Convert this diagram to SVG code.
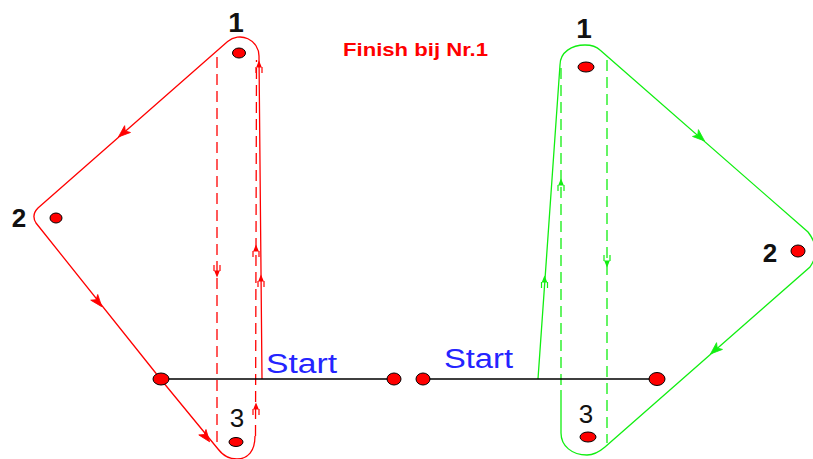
<svg xmlns="http://www.w3.org/2000/svg" width="813" height="459" viewBox="0 0 813 459">
<style>
.red{fill:none;stroke:#ff0000;stroke-width:1.3}
.grn{fill:none;stroke:#11ee11;stroke-width:1.3}
.dash{stroke-dasharray:11 6}
.start{stroke:#000;stroke-width:1.6}
.buoy{fill:#ff0000;stroke:#000;stroke-width:1}
.num{font-family:"Liberation Sans",Arial,sans-serif;font-size:26px;fill:#111;text-anchor:middle}
.big{font-size:28px}
.b{font-weight:bold}
.lbl{font-family:"Liberation Sans",Arial,sans-serif;font-size:27px;fill:#2424ff}
.fin{font-family:"Liberation Sans",Arial,sans-serif;font-size:18px;font-weight:bold;fill:#ff0000}
</style>
<defs>
<path id="da" d="M6 0 L-6 -4.5 L-3 0 L-6 4.5 Z" fill="currentColor" stroke="currentColor" stroke-width="0.8"/>
<g id="va" fill="currentColor" stroke="currentColor" stroke-width="1.2">
<path d="M0 -6 L-2 -1 L2 -1 Z"/>
<path d="M-3 -1 L-3 5 M3 -1 L3 5" fill="none"/>
</g>
</defs>
<rect width="813" height="459" fill="#fff"/>
<g id="connectors">
<!-- left red course -->
<path class="red" d="M262 379 L259 56 A19 19 0 0 0 227.6 41.6 L38 208 Q31 215 36 223 L160.5 379 L218 449 C224 457 230 459 237 459 C248 459 255 451 255 436"/>
<path class="red dash" d="M255.5 436 L256.5 60"/>
<path class="red dash" d="M217 57 L217 446"/>
<g color="#ff0000">
<use href="#da" transform="translate(123 133) rotate(139.3)"/>
<use href="#da" transform="translate(98 302) rotate(51)"/>
<use href="#da" transform="translate(206 437) rotate(53)"/>
<use href="#va" transform="translate(261 282)"/>
<use href="#va" transform="translate(259 68)"/>
<use href="#va" transform="translate(256 252)"/>
<use href="#va" transform="translate(256 410)"/>
<use href="#va" transform="translate(217 270) rotate(180)"/>
</g>
<!-- right green course -->
<path class="grn" d="M538 379 L560 65 C560 52 572 45 585 45 C592 45 597 47 600 50 L808 232 Q822 250 810 267 L605 447 C598 453 593 455 587 455 C572 455 561 446 561 433 L561 390"/>
<path class="grn dash" d="M561 385 L561 66"/>
<path class="grn dash" d="M607 60 L607 443"/>
<g color="#11ee11">
<use href="#da" transform="translate(700 137) rotate(41)"/>
<use href="#da" transform="translate(715 350) rotate(138.7)"/>
<use href="#va" transform="translate(544.5 283)"/>
<use href="#va" transform="translate(561 186)"/>
<use href="#va" transform="translate(607 260) rotate(180)"/>
</g>
<!-- start lines -->
<path class="start" d="M160 379 L393 379 M424 379 L656 379"/>
</g>
<g id="left-buoy-1"><ellipse class="buoy" cx="239" cy="53" rx="6.5" ry="5"/><text class="num b big" x="236" y="32">1</text></g>
<g id="left-buoy-2"><ellipse class="buoy" cx="56" cy="218" rx="6" ry="5"/><text class="num b" x="19" y="227">2</text></g>
<g id="left-buoy-3"><ellipse class="buoy" cx="236" cy="442" rx="7" ry="4.5"/><text class="num" x="237" y="427">3</text></g>
<g id="left-start-a"><ellipse class="buoy" cx="161" cy="379" rx="8" ry="6"/></g>
<g id="left-start-b"><ellipse class="buoy" cx="394" cy="379" rx="7" ry="6"/></g>
<g id="right-start-a"><ellipse class="buoy" cx="423" cy="379" rx="7" ry="6"/></g>
<g id="right-start-b"><ellipse class="buoy" cx="657" cy="379" rx="8" ry="6.5"/></g>
<g id="right-buoy-1"><ellipse class="buoy" cx="586" cy="67" rx="8" ry="5"/><text class="num b big" x="584" y="38">1</text></g>
<g id="right-buoy-2"><ellipse class="buoy" cx="798" cy="251" rx="7" ry="6"/><text class="num b" x="770" y="262">2</text></g>
<g id="right-buoy-3"><ellipse class="buoy" cx="588" cy="437" rx="8" ry="5"/><text class="num" x="586" y="423">3</text></g>
<g id="labels">
<text class="lbl" x="266" y="373" textLength="71" lengthAdjust="spacingAndGlyphs">Start</text>
<text class="lbl" x="444" y="368" textLength="69" lengthAdjust="spacingAndGlyphs">Start</text>
<text class="fin" x="343" y="56" textLength="145" lengthAdjust="spacingAndGlyphs">Finish bij Nr.1</text>
</g>
</svg>
